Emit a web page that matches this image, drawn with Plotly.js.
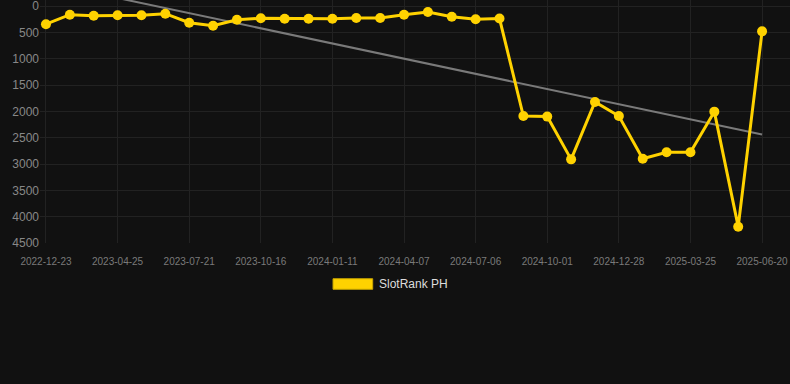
<!DOCTYPE html>
<html>
<head>
<meta charset="utf-8">
<script src="https://cdn.plot.ly/plotly-3.0.1.min.js"></script>
<style>
html,body{margin:0;padding:0;background:#111111;}
#chart{width:790px;height:384px;}
</style>
</head>
<body>
<div id="chart"></div>
<script>
var dates = ["2022-12-23","2023-02-03","2023-03-16","2023-04-25","2023-05-24","2023-06-22",
  "2023-07-21","2023-08-19","2023-09-17","2023-10-16","2023-11-14","2023-12-13",
  "2024-01-11","2024-02-09","2024-03-09","2024-04-07","2024-05-06","2024-06-04",
  "2024-07-06","2024-08-04","2024-09-02","2024-10-01","2024-10-30","2024-11-28",
  "2024-12-28","2025-01-26","2025-02-24","2025-03-25","2025-04-23","2025-05-22","2025-06-20"];
var ranks = [345,165,184,177,177,146,317,374,260,234,241,241,241,228,228,165,114,203,253,238,
  2089,2100,2912,1823,2089,2899,2778,2778,2006,4190,481];
var tickDates = ["2022-12-23","2023-04-25","2023-07-21","2023-10-16","2024-01-11","2024-04-07",
  "2024-07-06","2024-10-01","2024-12-28","2025-03-25","2025-06-20"];
var yTicks = [0,500,1000,1500,2000,2500,3000,3500,4000,4500];
var trendDates = ["2022-12-23","2025-06-20"];
var trendValues = [-440, 2440];
var seriesName = "SlotRank PH";

var yellow = "#FFD200";
var traces = [
  {x: trendDates, y: trendValues, type: "scatter", mode: "lines",
   line: {color: "#7a7a7a", width: 2}, hoverinfo: "skip", showlegend: false},
  {x: dates, y: ranks, type: "scatter", mode: "lines+markers", name: seriesName,
   line: {color: yellow, width: 3}, marker: {color: yellow, size: 10}, showlegend: false}
];
var layout = {
  width: 790, height: 384,
  margin: {l: 40, r: 0, t: 0, b: 141},
  paper_bgcolor: "#111111", plot_bgcolor: "#111111",
  font: {family: "Liberation Sans, Arial, sans-serif", color: "#888"},
  showlegend: false,
  xaxis: {type: "category", categoryorder: "array", categoryarray: dates,
    range: [-0.25, 31.17], tickmode: "array", tickvals: tickDates, ticktext: tickDates,
    showgrid: true, gridcolor: "#222222", gridwidth: 1, zeroline: false, showline: false,
    ticks: "outside", ticklen: 9, tickcolor: "rgba(0,0,0,0)",
    tickfont: {size: 10, color: "#7a7a7a"}, fixedrange: true},
  yaxis: {range: [4500, -114], tickmode: "array", tickvals: yTicks,
    showgrid: true, gridcolor: "#222222", gridwidth: 1, zeroline: false, showline: false,
    ticks: "", ticklabeloverflow: "allow", tickfont: {size: 12, color: "#888"}, fixedrange: true},
  shapes: [{type: "rect", xref: "paper", yref: "paper", x0: 0.3907, x1: 0.4436, y0: -0.147, y1: -0.1905,
    fillcolor: yellow, line: {color: "#c9a600", width: 1}}],
  annotations: [{xref: "paper", yref: "paper", x: 0.4495, y: -0.1707, xanchor: "left", yanchor: "middle",
    text: seriesName, showarrow: false, font: {size: 12, color: "#dddddd"}}]
};
Plotly.newPlot("chart", traces, layout, {displayModeBar: false, staticPlot: true});
</script>
</body>
</html>
